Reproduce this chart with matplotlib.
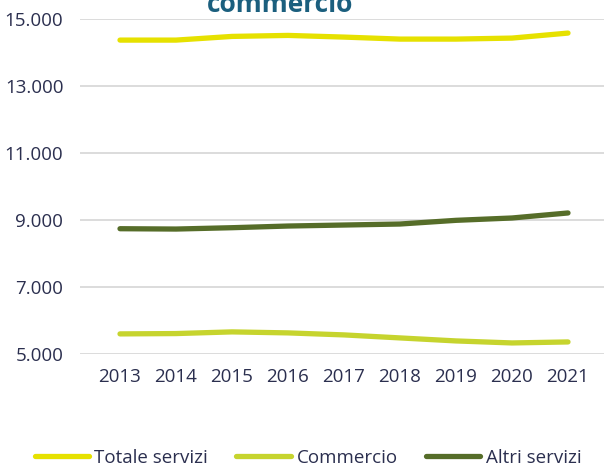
import matplotlib.pyplot as plt
from matplotlib.ticker import FuncFormatter

# valori
anni = [2013, 2014, 2015, 2016, 2017, 2018, 2019, 2020, 2021]
totale_servizi = [14370, 14370, 14480, 14510, 14460, 14400, 14400, 14430, 14580]
commercio = [5600, 5610, 5660, 5630, 5570, 5480, 5390, 5330, 5360]
altri_servizi = [8740, 8730, 8770, 8820, 8850, 8880, 8990, 9060, 9210]
yticks = [5000, 7000, 9000, 11000, 13000, 15000]

plt.rcParams['font.family'] = ['Open Sans', 'DejaVu Sans']
txt_col = '#2b2f4f'

fig = plt.figure(figsize=(6.04, 4.70), dpi=100)
ax = fig.add_axes([80/604, 1-354/470, 524/604, (354-19)/470])

ax.plot(anni, totale_servizi, color='#e6e100', lw=3.8, solid_capstyle='round', label='Totale servizi')
ax.plot(anni, commercio, color='#c6d42e', lw=3.8, solid_capstyle='round', label='Commercio')
ax.plot(anni, altri_servizi, color='#566d29', lw=3.8, solid_capstyle='round', label='Altri servizi')

ax.set_ylim(5000, 15000)
ax.set_xlim(2013 - 40/56, 2021 + 36/56)
ax.set_yticks(yticks)
ax.yaxis.set_major_formatter(FuncFormatter(lambda v, p: f'{int(v):,}'.replace(',', '.')))
ax.set_xticks(anni)
ax.grid(axis='y', color='#d9d9d9', lw=1.3)
ax.set_axisbelow(True)
for s in ax.spines.values():
    s.set_visible(False)
ax.tick_params(length=0, labelsize=13.5, colors=txt_col)
ax.tick_params(axis='y', pad=12)
ax.tick_params(axis='x', pad=10)

fig.text(280/604, 1-12/470, 'commercio', ha='center', va='baseline', fontsize=19,
         fontweight='bold', color='#1b5f7e')

fig.legend(loc='center left', bbox_to_anchor=(27/604, 12/470), ncol=3, frameon=False,
           fontsize=13.5, labelcolor=txt_col, handlelength=2.9, handletextpad=0.3,
           columnspacing=1.5, borderaxespad=0)

fig.savefig('out.png', dpi=100)
